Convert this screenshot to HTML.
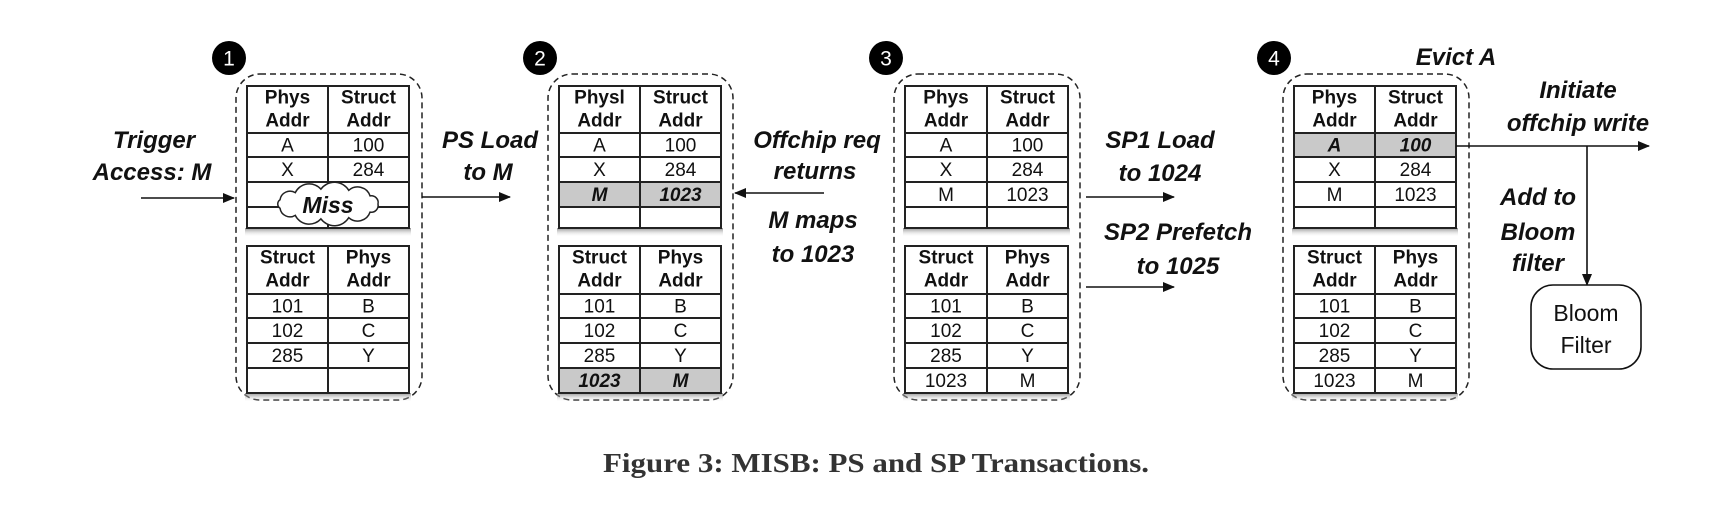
<!DOCTYPE html>
<html><head><meta charset="utf-8"><style>
html,body{margin:0;padding:0;background:#fff;}
svg{display:block;}
.lb{font-family:"Liberation Sans",sans-serif;font-weight:bold;font-style:italic;font-size:24px;fill:#111;}
</style></head><body>
<svg id="fig" width="1718" height="510" viewBox="0 0 1718 510" xmlns="http://www.w3.org/2000/svg">
<defs>
<linearGradient id="sh" x1="0" y1="0" x2="0" y2="1"><stop offset="0" stop-color="#777" stop-opacity="0.8"/><stop offset="1" stop-color="#fff" stop-opacity="0"/></linearGradient>
<marker id="ah" markerWidth="12" markerHeight="10" refX="11" refY="5" orient="auto" markerUnits="userSpaceOnUse"><path d="M0,0 L12,5 L0,10 Z" fill="#111"/></marker>
</defs>
<g id="panels"></g>
<g>
<text class="lb" x="154" y="148" text-anchor="middle">Trigger</text>
<text class="lb" x="152" y="180" text-anchor="middle">Access: M</text>
<line x1="141" y1="198" x2="234" y2="198" stroke="#111" stroke-width="1.6" marker-end="url(#ah)"/>
<text class="lb" x="490" y="148" text-anchor="middle">PS Load</text>
<text class="lb" x="488" y="180" text-anchor="middle">to M</text>
<line x1="422" y1="197" x2="510" y2="197" stroke="#111" stroke-width="1.6" marker-end="url(#ah)"/>
<text class="lb" x="817" y="148" text-anchor="middle">Offchip req</text>
<text class="lb" x="815" y="179" text-anchor="middle">returns</text>
<line x1="824" y1="193" x2="735" y2="193" stroke="#111" stroke-width="1.6" marker-end="url(#ah)"/>
<text class="lb" x="813" y="228" text-anchor="middle">M maps</text>
<text class="lb" x="813" y="262" text-anchor="middle">to 1023</text>
<text class="lb" x="1160" y="148" text-anchor="middle">SP1 Load</text>
<text class="lb" x="1160" y="181" text-anchor="middle">to 1024</text>
<line x1="1086" y1="197" x2="1174" y2="197" stroke="#111" stroke-width="1.6" marker-end="url(#ah)"/>
<text class="lb" x="1178" y="240" text-anchor="middle">SP2 Prefetch</text>
<text class="lb" x="1178" y="274" text-anchor="middle">to 1025</text>
<line x1="1086" y1="287" x2="1174" y2="287" stroke="#111" stroke-width="1.6" marker-end="url(#ah)"/>
<text class="lb" x="1456" y="65" text-anchor="middle">Evict A</text>
<text class="lb" x="1578" y="98" text-anchor="middle">Initiate</text>
<text class="lb" x="1578" y="131" text-anchor="middle">offchip write</text>
<line x1="1456" y1="146" x2="1649" y2="146" stroke="#111" stroke-width="1.6" marker-end="url(#ah)"/>
<line x1="1587" y1="146" x2="1587" y2="285" stroke="#111" stroke-width="1.6" marker-end="url(#ah)"/>
<text class="lb" x="1538" y="205" text-anchor="middle">Add to</text>
<text class="lb" x="1538" y="240" text-anchor="middle">Bloom</text>
<text class="lb" x="1538" y="271" text-anchor="middle">filter</text>
<rect x="1531" y="285" width="110" height="84" rx="22" fill="#fff" stroke="#111" stroke-width="1.6"/>
<text x="1586" y="321" text-anchor="middle" font-family="Liberation Sans, sans-serif" font-size="23" fill="#111">Bloom</text>
<text x="1586" y="353" text-anchor="middle" font-family="Liberation Sans, sans-serif" font-size="23" fill="#111">Filter</text>
<text x="876" y="472" text-anchor="middle" font-family="Liberation Serif, serif" font-weight="bold" font-size="27" fill="#333" textLength="546" lengthAdjust="spacingAndGlyphs">Figure 3: MISB: PS and SP Transactions.</text>
</g>
</svg>
<script>
const NS="http://www.w3.org/2000/svg";
const panelLeft=[247,559,905,1294];
const panelMid=[328,640,987,1375];
const panelRight=[409,721,1068,1456];
const topHeaders=[["Phys","Struct"],["Physl","Struct"],["Phys","Struct"],["Phys","Struct"]];
const topRows=[
 [["A","100"],["X","284"],["",""],["",""]],
 [["A","100"],["X","284"],["M","1023"],["",""]],
 [["A","100"],["X","284"],["M","1023"],["",""]],
 [["A","100"],["X","284"],["M","1023"],["",""]]];
const topHL=[-1,2,-1,0];
const botRows=[
 [["101","B"],["102","C"],["285","Y"],["",""]],
 [["101","B"],["102","C"],["285","Y"],["1023","M"]],
 [["101","B"],["102","C"],["285","Y"],["1023","M"]],
 [["101","B"],["102","C"],["285","Y"],["1023","M"]]];
const botHL=[-1,3,-1,-1];
const topY=[86,133,157,182,207,228];
const botY=[246,294,318,343,368,393];
const root=document.getElementById('panels');
function mk(tag,attrs,parent){const e=document.createElementNS(NS,tag);for(const k in attrs)e.setAttribute(k,attrs[k]);parent.appendChild(e);return e;}
function txt(x,y,s,bold,ital,parent){const t=mk('text',{x:x,y:y,'text-anchor':'middle','dominant-baseline':'central','font-family':'Liberation Sans, sans-serif','font-size':19,fill:'#111'},parent);
 if(bold)t.setAttribute('font-weight','bold');if(ital)t.setAttribute('font-style','italic');t.textContent=s;
 
 
 return t;}
function table(p,ys,hdr,rows,hl,parent,name){
 const g=mk('g',{},parent);
 
 
 const L=panelLeft[p],M=panelMid[p],R=panelRight[p];
 mk('rect',{x:L-2,y:ys[5],width:R-L+4,height:9,fill:'url(#sh)'},g);
 mk('rect',{x:L,y:ys[0],width:R-L,height:ys[5]-ys[0],fill:'#fff'},g);
 if(hl>=0){const r=mk('rect',{x:L,y:ys[hl+1],width:R-L,height:ys[hl+2]-ys[hl+1],fill:'#c9c9c9'},g);
  
  }
 mk('rect',{x:L,y:ys[0],width:R-L,height:ys[5]-ys[0],fill:'none',stroke:'#222','stroke-width':2},g);
 mk('line',{x1:M,y1:ys[0],x2:M,y2:ys[5],stroke:'#222','stroke-width':2},g);
 for(let i=1;i<5;i++)mk('line',{x1:L,y1:ys[i],x2:R,y2:ys[i],stroke:'#222','stroke-width':2},g);
 const cl=(L+M)/2,cr=(M+R)/2;
 txt(cl,ys[0]+12,hdr[0],true,false,g);txt(cl,ys[0]+35,"Addr",true,false,g);
 txt(cr,ys[0]+12,hdr[1],true,false,g);txt(cr,ys[0]+35,"Addr",true,false,g);
 rows.forEach((r,i)=>{const yc=(ys[i+1]+ys[i+2])/2+1;const h=i===hl;
  txt(cl,yc,r[0],h,h,g);txt(cr,yc,r[1],h,h,g);});
}
const boxL=[236,548,894,1283],boxR=[422,733,1080,1469];
const badgeX=[229,540,886,1274];
for(let p=0;p<4;p++){
 const g=mk('g',{},root);
 
 
 const b=mk('rect',{x:boxL[p],y:74,width:boxR[p]-boxL[p],height:326,rx:24,fill:'none',stroke:'#222','stroke-width':1.5,'stroke-dasharray':'6,4'},g);
 
 
 const c=mk('ellipse',{cx:badgeX[p],cy:58,rx:17,ry:17,fill:'#000'},g);
 
 
 const t=mk('text',{x:badgeX[p],y:59,'text-anchor':'middle','dominant-baseline':'central','font-family':'Liberation Sans, sans-serif','font-size':21,fill:'#fff'},g);
 t.textContent=String(p+1);
 
 
 table(p,topY,topHeaders[p],topRows[p],topHL[p],g,'phys-to-struct-table');
 table(p,botY,["Struct","Phys"],botRows[p],botHL[p],g,'struct-to-phys-table');
}
// Miss cloud
(function(){const cx=328,cy=204,rx=50,ry=15,N=11;let d='';const pts=[];
 for(let i=0;i<N;i++){const a=2*Math.PI*i/N;pts.push([cx+rx*Math.cos(a),cy+ry*Math.sin(a)]);}
 d='M'+pts[0][0]+','+pts[0][1];
 for(let i=1;i<=N;i++){const q=pts[i%N],pr=pts[i-1];const ch=Math.hypot(q[0]-pr[0],q[1]-pr[1]);d+=' A'+(ch*0.6)+','+(ch*0.6)+' 0 0 1 '+q[0]+','+q[1];}
 d+=' Z';
 const cl=mk('path',{d:d,fill:'#fff',stroke:'#222','stroke-width':1.5},root);
 
 
 const t=mk('text',{x:cx,y:cy+1,'text-anchor':'middle','dominant-baseline':'central','font-family':'Liberation Sans, sans-serif','font-size':23,'font-weight':'bold','font-style':'italic',fill:'#111'},root);
 t.textContent='Miss';
 
 
})();
</script>
</body></html>
